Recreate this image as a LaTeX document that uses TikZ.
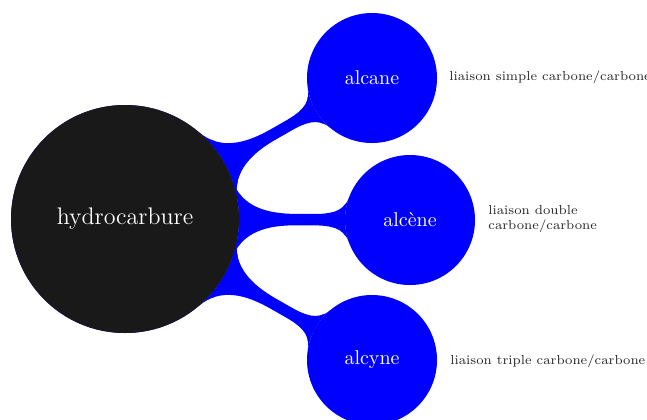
\documentclass[tikz,border=0pt]{standalone}
\usetikzlibrary{mindmap}
\begin{document}
\begin{tikzpicture}[x=0.5pt,y=-0.5pt,
  rootc/.style={concept, circle, fill=black!90, draw=none, text=white!88, minimum size=114pt, text width=100pt, font=\large, align=center, inner sep=0pt},
  childc/.style={concept, circle, fill=blue, draw=none, text=white!90, minimum size=65pt, text width=55pt, font=\normalsize, align=center, inner sep=0pt},
  annot/.style={font=\fontsize{6.5pt}{7.4pt}\selectfont, text=black!85, align=left, anchor=west, inner sep=0pt}]
\useasboundingbox (0,0) rectangle (647,419);
\begin{scope}[mindmap, concept color=blue]
  \path (125,219) coordinate (rc) (372,78) coordinate (ac) (410,220) coordinate (ec) (372,360) coordinate (yc);
  \node[childc] (alcane) at (ac) {alcane};
  \node[childc] (alcene) at (ec) {alc\`ene};
  \node[childc] (alcyne) at (yc) {alcyne};
  \node[childc, minimum size=114pt] (rootb) at (rc) {};
  \path (rootb) to[circle connection bar switch color=from (blue) to (blue)] (alcane);
  \path (rootb) to[circle connection bar switch color=from (blue) to (blue)] (alcene);
  \path (rootb) to[circle connection bar switch color=from (blue) to (blue)] (alcyne);
  \node[rootc] (root) at (rc) {hydrocarbure};
\end{scope}
\node[annot] (a1) at (449,77) {liaison simple carbone/carbone};
\node[annot] (a2) at (488,219) {liaison double\\carbone/carbone};
\node[annot] (a3) at (450,361) {liaison triple carbone/carbone};
\end{tikzpicture}
\end{document}
